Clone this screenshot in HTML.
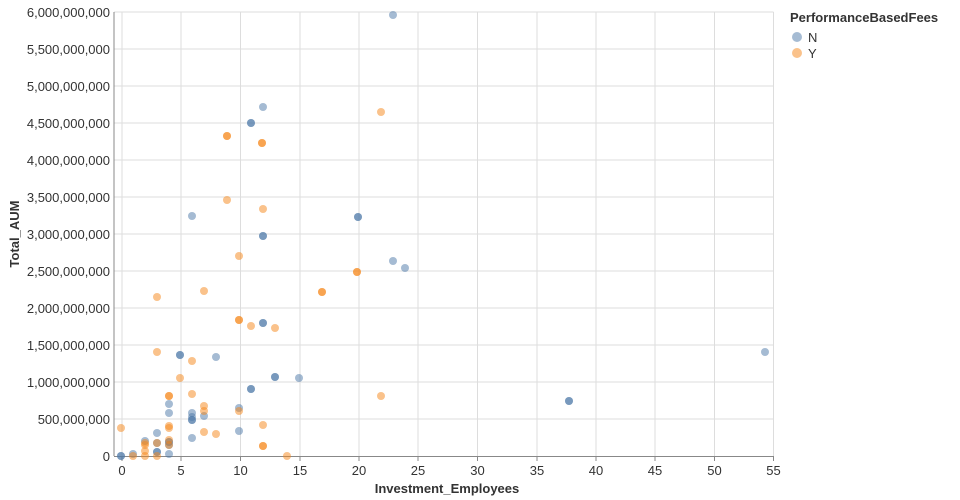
<!DOCTYPE html>
<html><head><meta charset="utf-8"><style>body{margin:0;background:#fff}svg{display:block;font-family:"Liberation Sans",sans-serif}</style></head><body>
<svg width="960" height="500" viewBox="0 0 960 500">
<g stroke="#ddd" stroke-width="1">
<line x1="122" y1="12" x2="122" y2="456"/><line x1="181" y1="12" x2="181" y2="456"/><line x1="240.5" y1="12" x2="240.5" y2="456"/><line x1="300" y1="12" x2="300" y2="456"/><line x1="359" y1="12" x2="359" y2="456"/><line x1="418" y1="12" x2="418" y2="456"/><line x1="477.5" y1="12" x2="477.5" y2="456"/><line x1="537" y1="12" x2="537" y2="456"/><line x1="596" y1="12" x2="596" y2="456"/><line x1="655" y1="12" x2="655" y2="456"/><line x1="714.5" y1="12" x2="714.5" y2="456"/><line x1="773.5" y1="12" x2="773.5" y2="456"/>
<line x1="114" y1="12" x2="773.5" y2="12"/><line x1="114" y1="49" x2="773.5" y2="49"/><line x1="114" y1="86" x2="773.5" y2="86"/><line x1="114" y1="123" x2="773.5" y2="123"/><line x1="114" y1="160" x2="773.5" y2="160"/><line x1="114" y1="197" x2="773.5" y2="197"/><line x1="114" y1="234" x2="773.5" y2="234"/><line x1="114" y1="271" x2="773.5" y2="271"/><line x1="114" y1="308" x2="773.5" y2="308"/><line x1="114" y1="345" x2="773.5" y2="345"/><line x1="114" y1="382" x2="773.5" y2="382"/><line x1="114" y1="419" x2="773.5" y2="419"/>
</g>
<g stroke="#888"><line x1="114" y1="456.5" x2="773.5" y2="456.5"/><line x1="114" y1="12" x2="114" y2="456"/>
<line x1="122" y1="456" x2="122" y2="461"/><line x1="181" y1="456" x2="181" y2="461"/><line x1="240.5" y1="456" x2="240.5" y2="461"/><line x1="300" y1="456" x2="300" y2="461"/><line x1="359" y1="456" x2="359" y2="461"/><line x1="418" y1="456" x2="418" y2="461"/><line x1="477.5" y1="456" x2="477.5" y2="461"/><line x1="537" y1="456" x2="537" y2="461"/><line x1="596" y1="456" x2="596" y2="461"/><line x1="655" y1="456" x2="655" y2="461"/><line x1="714.5" y1="456" x2="714.5" y2="461"/><line x1="773.5" y1="456" x2="773.5" y2="461"/>
</g>
<g font-size="13" fill="#333" text-anchor="middle">
<text x="122" y="475">0</text><text x="181" y="475">5</text><text x="240.5" y="475">10</text><text x="300" y="475">15</text><text x="359" y="475">20</text><text x="418" y="475">25</text><text x="477.5" y="475">30</text><text x="537" y="475">35</text><text x="596" y="475">40</text><text x="655" y="475">45</text><text x="714.5" y="475">50</text><text x="773.5" y="475">55</text>
</g>
<g font-size="13" fill="#333" text-anchor="end">
<text x="110" y="461">0</text><text x="110" y="424">500,000,000</text><text x="110" y="387">1,000,000,000</text><text x="110" y="350">1,500,000,000</text><text x="110" y="313">2,000,000,000</text><text x="110" y="276">2,500,000,000</text><text x="110" y="239">3,000,000,000</text><text x="110" y="202">3,500,000,000</text><text x="110" y="165">4,000,000,000</text><text x="110" y="128">4,500,000,000</text><text x="110" y="91">5,000,000,000</text><text x="110" y="54">5,500,000,000</text><text x="110" y="17">6,000,000,000</text>
</g>
<text x="447" y="493" font-size="13" font-weight="bold" fill="#333" text-anchor="middle">Investment_Employees</text>
<text transform="translate(19,234) rotate(-90)" font-size="13" font-weight="bold" fill="#333" text-anchor="middle">Total_AUM</text>
<g fill="#4c78a8" fill-opacity="0.5">
<circle cx="121" cy="456" r="4"/><circle cx="121" cy="456" r="4"/><circle cx="133" cy="454" r="4"/><circle cx="145" cy="441" r="4"/><circle cx="157" cy="433" r="4"/><circle cx="157" cy="443" r="4"/><circle cx="157" cy="452" r="4"/><circle cx="157" cy="452" r="4"/><circle cx="169" cy="404" r="4"/><circle cx="169" cy="413" r="4"/><circle cx="169" cy="442" r="4"/><circle cx="169" cy="442" r="4"/><circle cx="169" cy="445" r="4"/><circle cx="169" cy="454" r="4"/><circle cx="180" cy="355" r="4"/><circle cx="180" cy="355" r="4"/><circle cx="216" cy="357" r="4"/><circle cx="192" cy="413" r="4"/><circle cx="192" cy="417" r="4"/><circle cx="192" cy="420" r="4"/><circle cx="192" cy="420" r="4"/><circle cx="204" cy="416" r="4"/><circle cx="192" cy="438" r="4"/><circle cx="239" cy="408" r="4"/><circle cx="239" cy="431" r="4"/><circle cx="251" cy="389" r="4"/><circle cx="251" cy="389" r="4"/><circle cx="263" cy="323" r="4"/><circle cx="263" cy="323" r="4"/><circle cx="275" cy="377" r="4"/><circle cx="275" cy="377" r="4"/><circle cx="299" cy="378" r="4"/>
<circle cx="393" cy="15" r="4"/><circle cx="263" cy="107" r="4"/><circle cx="251" cy="123" r="4"/><circle cx="251" cy="123" r="4"/><circle cx="192" cy="216" r="4"/><circle cx="358" cy="217" r="4"/><circle cx="358" cy="217" r="4"/><circle cx="263" cy="236" r="4"/><circle cx="263" cy="236" r="4"/><circle cx="393" cy="261" r="4"/><circle cx="405" cy="268" r="4"/><circle cx="569" cy="401" r="4"/><circle cx="569" cy="401" r="4"/><circle cx="765" cy="352" r="4"/>
</g>
<g fill="#f58518" fill-opacity="0.5">
<circle cx="157" cy="297" r="4"/><circle cx="204" cy="291" r="4"/><circle cx="239" cy="320" r="4"/><circle cx="239" cy="320" r="4"/><circle cx="251" cy="326" r="4"/><circle cx="275" cy="328" r="4"/><circle cx="157" cy="352" r="4"/><circle cx="192" cy="361" r="4"/><circle cx="180" cy="378" r="4"/><circle cx="169" cy="396" r="4"/><circle cx="169" cy="396" r="4"/><circle cx="192" cy="394" r="4"/><circle cx="204" cy="406" r="4"/><circle cx="204" cy="411" r="4"/><circle cx="239" cy="411" r="4"/><circle cx="169" cy="426" r="4"/><circle cx="169" cy="428" r="4"/><circle cx="121" cy="428" r="4"/><circle cx="263" cy="425" r="4"/><circle cx="204" cy="432" r="4"/><circle cx="216" cy="434" r="4"/><circle cx="263" cy="446" r="4"/><circle cx="263" cy="446" r="4"/><circle cx="287" cy="456" r="4"/><circle cx="145" cy="443" r="4"/><circle cx="145" cy="445" r="4"/><circle cx="145" cy="451" r="4"/><circle cx="145" cy="456" r="4"/><circle cx="157" cy="443" r="4"/><circle cx="157" cy="456" r="4"/><circle cx="169" cy="440" r="4"/><circle cx="169" cy="445" r="4"/><circle cx="133" cy="456" r="4"/>
<circle cx="227" cy="136" r="4"/><circle cx="227" cy="136" r="4"/><circle cx="262" cy="143" r="4"/><circle cx="262" cy="143" r="4"/><circle cx="381" cy="112" r="4"/><circle cx="227" cy="200" r="4"/><circle cx="263" cy="209" r="4"/><circle cx="239" cy="256" r="4"/><circle cx="322" cy="292" r="4"/><circle cx="322" cy="292" r="4"/><circle cx="357" cy="272" r="4"/><circle cx="357" cy="272" r="4"/><circle cx="381" cy="396" r="4"/>
</g>
<text x="790" y="22" font-size="13" font-weight="bold" fill="#333">PerformanceBasedFees</text>
<circle cx="797" cy="37" r="5" fill="#4c78a8" fill-opacity="0.5"/><text x="808" y="42" font-size="13" fill="#333">N</text>
<circle cx="797" cy="53" r="5" fill="#f58518" fill-opacity="0.5"/><text x="808" y="58" font-size="13" fill="#333">Y</text>
</svg>
</body></html>
